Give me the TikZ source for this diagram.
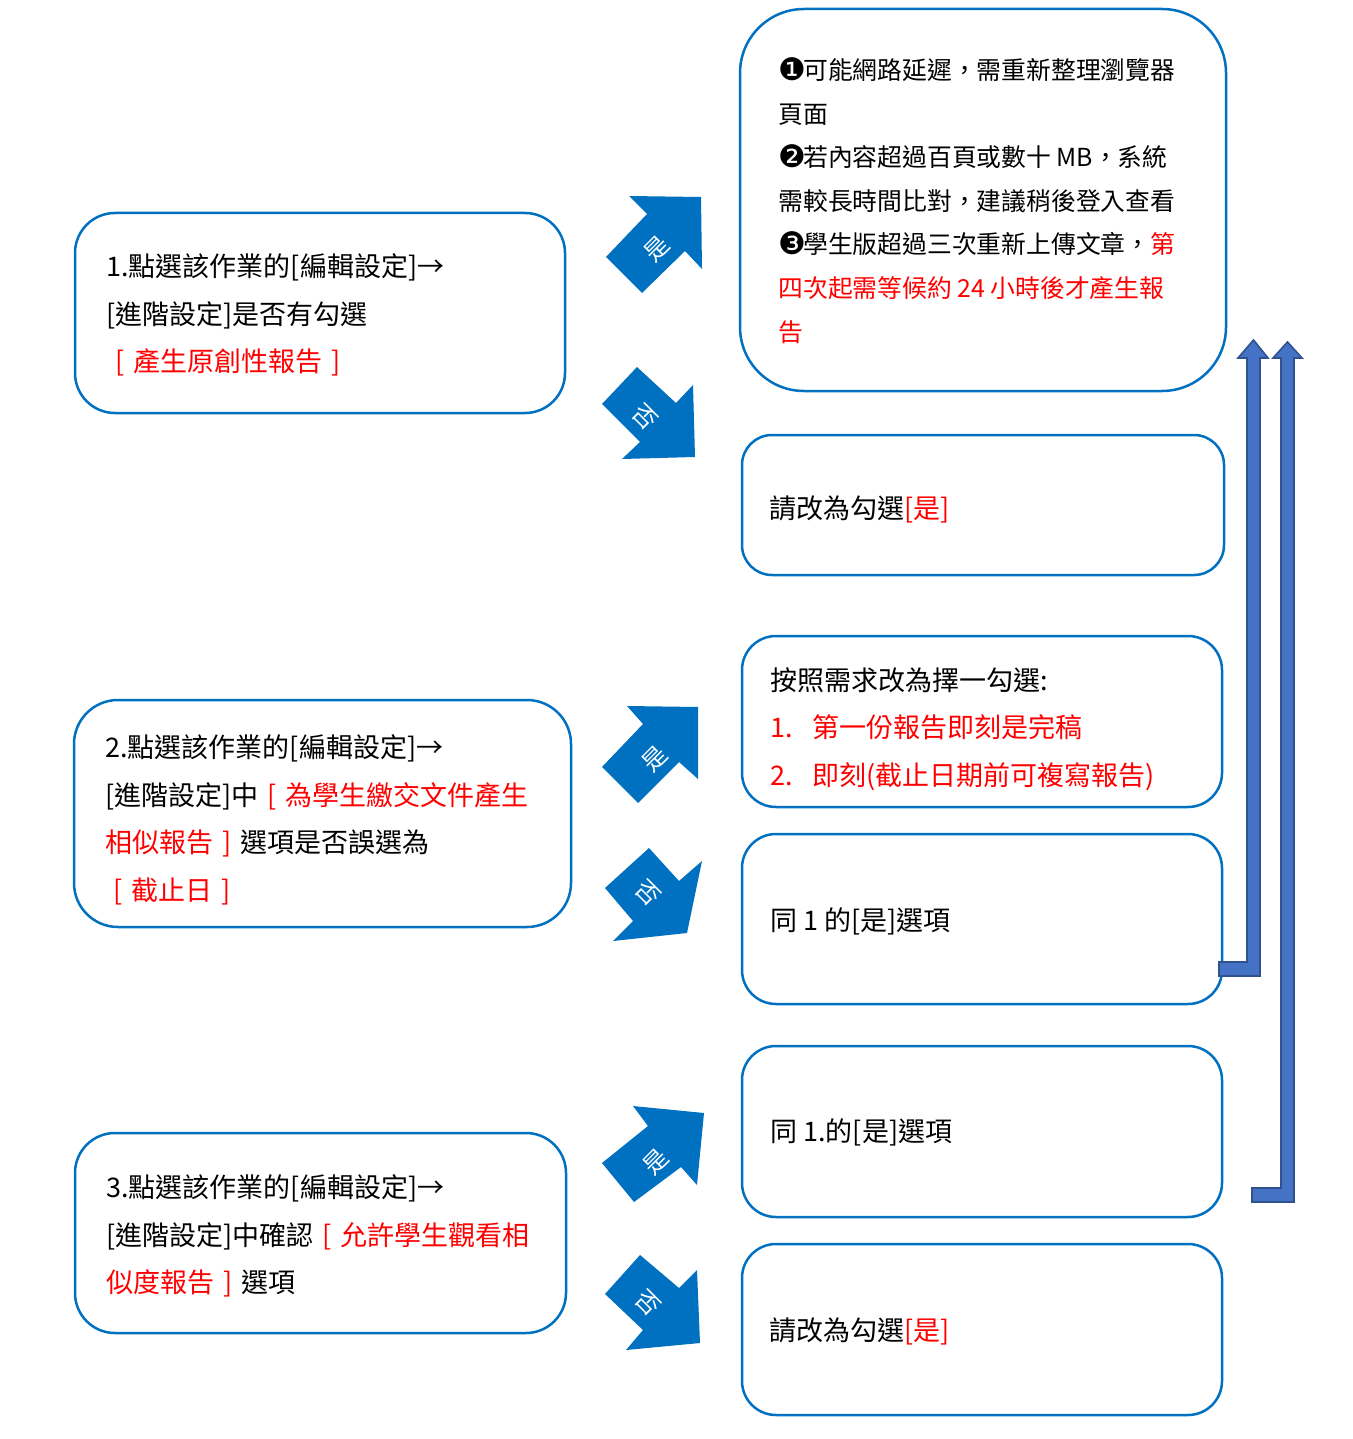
\documentclass[tikz,border=0pt]{standalone}
\usepackage{fontspec}
\setmainfont{Noto Sans CJK TC}
\newfontfamily\dejavu{DejaVu Sans}
\definecolor{boxblue}{HTML}{0070C0}
\definecolor{bendfill}{HTML}{4472C4}
\definecolor{bendline}{HTML}{2F528F}
\definecolor{myred}{HTML}{FF0000}
\newcommand{\rd}[1]{\textcolor{myred}{#1}}
\newcommand{\gap}{\hspace{4.5pt}}
\newcommand{\cnum}[1]{\makebox[1em][l]{\raisebox{-0.5pt}{\fontsize{15.5pt}{15.5pt}\dejavu #1}}}
\begin{document}
\begin{tikzpicture}[x=0.5pt,y=-0.5pt,
  flowbox/.style={draw=boxblue, line width=1.25pt, fill=white, rectangle, inner sep=0pt},
  bigtxt/.style={anchor=base west, inner sep=0pt, font=\fontsize{13.5pt}{16pt}\selectfont},
  smtxt/.style={anchor=base west, inner sep=0pt, font=\fontsize{12.4pt}{15pt}\selectfont},
  diag/.style={fill=boxblue},
  diaglbl/.style={text=white, inner sep=0pt, font=\fontsize{12pt}{13pt}\selectfont},
  bentarrow/.style={draw=bendline, fill=bendfill, line width=0.8pt, line join=miter}]
\useasboundingbox (0,0) rectangle (1353,1439);
\fill[white] (0,0) rectangle (1353,1439);

% ---------- boxes ----------
\node[flowbox, minimum width=245pt, minimum height=100pt, rounded corners=20pt] (b1) at (320,313) {};
\node[flowbox, minimum width=248.5pt, minimum height=113.5pt, rounded corners=22pt] (b2) at (322.5,813.5) {};
\node[flowbox, minimum width=245.5pt, minimum height=100pt, rounded corners=20pt] (b3) at (320.5,1233) {};
\node[flowbox, minimum width=243pt, minimum height=191pt, rounded corners=32pt] (r1) at (983,200) {};
\node[flowbox, minimum width=241pt, minimum height=70pt, rounded corners=15pt] (r2) at (983,505) {};
\node[flowbox, minimum width=240pt, minimum height=85.5pt, rounded corners=17pt] (r3) at (982,721.5) {};
\node[flowbox, minimum width=240pt, minimum height=85pt, rounded corners=17pt] (r4) at (982,919) {};
\node[flowbox, minimum width=240pt, minimum height=85.5pt, rounded corners=17pt] (r5) at (982,1131.5) {};
\node[flowbox, minimum width=240pt, minimum height=85.5pt, rounded corners=17pt] (r6) at (982,1329.5) {};

% ---------- left texts ----------
\node[bigtxt] (b1a) at (106,277) {1.點選該作業的[編輯設定]→};
\node[bigtxt] (b1b) at (106,324) {[進階設定]是否有勾選};
\node[bigtxt] (b1c) at (115,371) {\rd{[\gap 產生原創性報告\gap ]}};

\node[bigtxt] (b2a) at (105,757) {2.點選該作業的[編輯設定]→};
\node[bigtxt] (b2b) at (105,805) {[進階設定]中\gap\rd{[\gap 為學生繳交文件產生}};
\node[bigtxt] (b2c) at (105,852) {\rd{相似報告\gap ]}\gap 選項是否誤選為};
\node[bigtxt] (b2d) at (113,900) {\rd{[\gap 截止日\gap ]}};

\node[bigtxt] (b3a) at (106,1197) {3.點選該作業的[編輯設定]→};
\node[bigtxt] (b3b) at (106,1245) {[進階設定]中確認\gap\rd{[\gap 允許學生觀看相}};
\node[bigtxt] (b3c) at (106,1292) {\rd{似度報告\gap ]}\gap 選項};

% ---------- right texts ----------
\node[smtxt] (r1a) at (778,80) {\cnum{❶}可能網路延遲，需重新整理瀏覽器};
\node[smtxt] (r1b) at (778,123.5) {頁面};
\node[smtxt] (r1c) at (778,167) {\cnum{❷}若內容超過百頁或數十 MB，系統};
\node[smtxt] (r1d) at (778,210.5) {需較長時間比對，建議稍後登入查看};
\node[smtxt] (r1e) at (778,254) {\cnum{❸}學生版超過三次重新上傳文章，\rd{第}};
\node[smtxt] (r1f) at (778,297.5) {\rd{四次起需等候約 24 小時後才產生報}};
\node[smtxt] (r1g) at (778,341) {\rd{告}};

\node[bigtxt] (r2a) at (769,518) {請改為勾選\rd{[是]}};

\node[bigtxt] (r3a) at (770,690) {按照需求改為擇一勾選:};
\node[bigtxt] (r3b) at (770,737) {\rd{\makebox[21pt][l]{1.}第一份報告即刻是完稿}};
\node[bigtxt] (r3c) at (770,785) {\rd{\makebox[21pt][l]{2.}即刻(截止日期前可複寫報告)}};

\node[bigtxt] (r4a) at (770,930) {同 1 的[是]選項};
\node[bigtxt] (r5a) at (770,1141) {同 1.的[是]選項};
\node[bigtxt] (r6a) at (769,1340) {請改為勾選\rd{[是]}};

% ---------- diagonal yes/no arrows ----------
\fill[diag] (606,257) -- (647,214) -- (629,196) -- (701,197) -- (702,269) -- (685,251) -- (642,293) -- cycle;
\node[diaglbl, rotate=45] (y1) at (657,249) {是};
\fill[diag] (637,367) -- (676,403) -- (693,385) -- (695,457) -- (622,459) -- (640,442) -- (602,404) -- cycle;
\node[diaglbl, rotate=-45] (n1) at (645,417) {否};

\fill[diag] (602,767) -- (643,724) -- (627,706) -- (698,707) -- (698,779) -- (679,762) -- (638,803) -- cycle;
\node[diaglbl, rotate=45] (y2) at (655,759) {是};
\fill[diag] (649,848) -- (679,881) -- (702,861) -- (687,933) -- (613,941) -- (633,921) -- (605,888) -- cycle;
\node[diaglbl, rotate=-45] (n2) at (648,893) {否};

\fill[diag] (602,1163) -- (648,1126) -- (633,1106) -- (704,1113) -- (697,1185) -- (681,1167) -- (634,1202) -- cycle;
\node[diaglbl, rotate=45] (y3) at (656,1162) {是};
\fill[diag] (640,1255) -- (679,1288) -- (697,1270) -- (700,1343) -- (626,1350) -- (643,1330) -- (605,1294) -- cycle;
\node[diaglbl, rotate=-45] (n3) at (648,1303) {否};

% ---------- bent return arrows ----------
\coordinate (tipA) at (1253.5,340);
\coordinate (tipB) at (1287.5,342);
\draw[bentarrow] (1219,962) -- (1247,962) -- (1247,358) -- (1238,358) -- (tipA)
  -- (1268,358) -- (1260,358) -- (1260,976) -- (1219,976) -- cycle;
\draw[bentarrow] (1252,1188) -- (1281,1188) -- (1281,358) -- (1273,358) -- (tipB)
  -- (1302,358) -- (1294,358) -- (1294,1202) -- (1252,1202) -- cycle;
\end{tikzpicture}
\end{document}
